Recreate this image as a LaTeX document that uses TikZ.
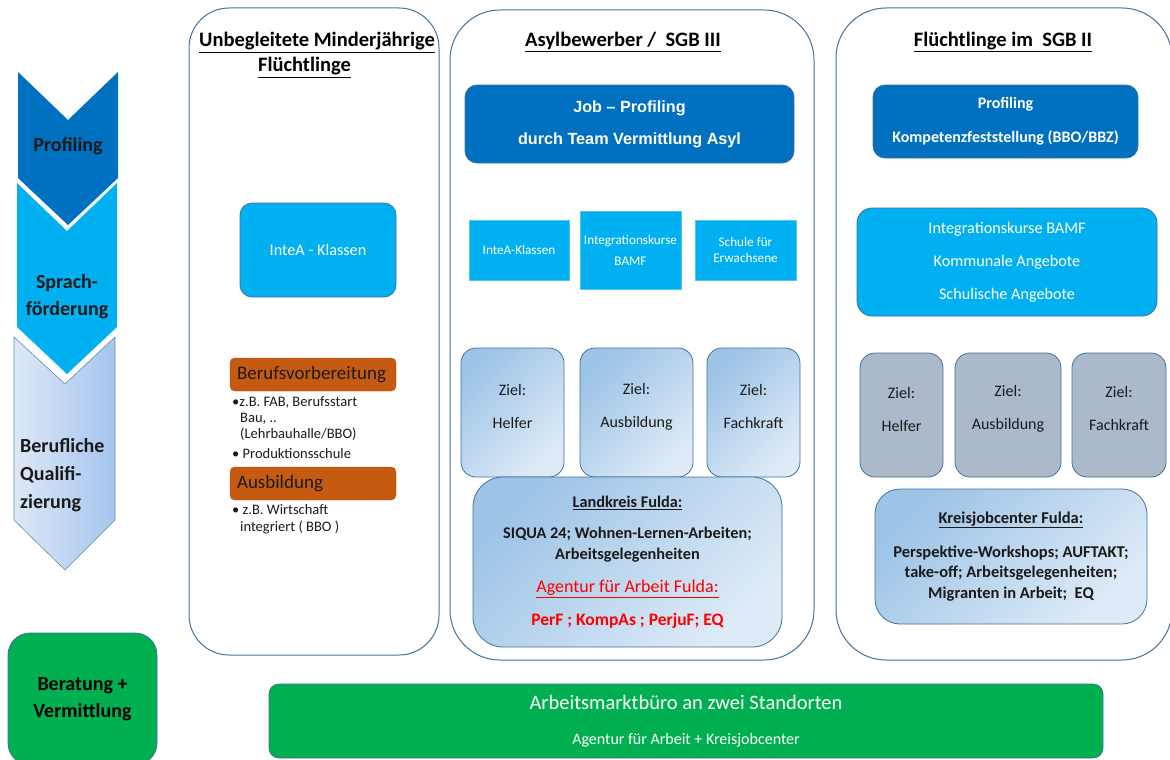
\documentclass[tikz,border=0pt]{standalone}
\usepackage{fontspec}
\setmainfont{Carlito}
\newfontfamily\arialfont{Liberation Sans}
\usetikzlibrary{positioning}

\definecolor{dunkelblau}{HTML}{0070C0}
\definecolor{hellblau}{HTML}{00B0F0}
\definecolor{rahmen}{HTML}{41719C}
\definecolor{zielgrau}{HTML}{ACB9CA}
\definecolor{rostbraun}{HTML}{C55A11}
\definecolor{gruen}{HTML}{00B050}
\definecolor{verlaufA}{HTML}{9DC3E6}
\definecolor{verlaufB}{HTML}{DEEBF7}
\definecolor{pfeilA}{HTML}{DDE8F6}
\definecolor{pfeilB}{HTML}{A4C5EE}
\definecolor{textdunkel}{HTML}{1A1A1A}
\definecolor{agenturrot}{HTML}{FF0000}

\begin{document}
\begin{tikzpicture}[x=1pt,y=-1pt,
    spalte/.style={draw=rahmen, line width=1pt, rounded corners=45, inner sep=0},
    kasten/.style={draw=rahmen, line width=0.8pt, rounded corners=10, inner sep=0, align=center},
    verlauf/.style={left color=verlaufA, right color=verlaufB, shading angle=45},
    kopf/.style={font=\fontsize{20.5}{25}\selectfont\bfseries, text=black, align=left, inner sep=0},
    zieltext/.style={font=\fontsize{16}{33}\selectfont, text=textdunkel},
    balken/.style={fill=rostbraun, draw=rostbraun!80!black, line width=0.4pt, rounded corners=5,
      inner xsep=7, inner ysep=0, text width=152, minimum height=33, align=left,
      font=\fontsize{19}{22}\selectfont, text=textdunkel},
    punkte/.style={font=\fontsize{14.5}{16}\selectfont, text=textdunkel, align=left, inner sep=0},
    kurs/.style={fill=hellblau, draw=hellblau!70!white, line width=0.4pt, inner sep=0, align=center,
      font=\fontsize{13.2}{16}\selectfont, text=white}
  ]
  \useasboundingbox (0,0) rectangle (1170,760);

  % Pfeile links
  \fill[dunkelblau] (18,72) -- (68,120) -- (118,72) -- (118,178) -- (68,225) -- (18,178) -- cycle;
  \fill[hellblau] (17,183) -- (67,231) -- (117,183) -- (117,327) -- (67,374) -- (17,327) -- cycle;
  \shade[left color=pfeilA, right color=pfeilB, draw=rahmen!80!white, line width=0.6pt]
    (14,337) -- (65,384) -- (115,337) -- (115,520) -- (65,570) -- (14,520) -- cycle;
  \node[font=\fontsize{20}{24}\selectfont\bfseries, text=textdunkel] (profiling) at (68,146) {Profiling};
  \node[font=\fontsize{20}{27}\selectfont\bfseries, text=textdunkel, align=center] (sprache) at (67,297) {Sprach-\\förderung};
  \node[font=\fontsize{20}{28}\selectfont\bfseries, text=textdunkel, align=left, anchor=west, inner sep=0] (beruf) at (20,475) {Berufliche\\Qualifi-\\zierung};

  % Spalten
  \node[spalte, rounded corners=40, minimum width=250, minimum height=647] (umf) at (314,331.5) {};
  \node[spalte, rounded corners=50, minimum width=364, minimum height=650] (asyl) at (632,335) {};
  \node[spalte, rounded corners=50, minimum width=336, minimum height=652] (sgbzwei) at (1004,334) {};

  \node[kopf] (umfkopf) at (317,55) {\underline{Unbegleitete Minderjährige}\\\hspace*{59pt}\underline{Flüchtlinge}};
  \node[kopf] (asylkopf) at (623,42) {\underline{Asylbewerber /\ \ SGB III}};
  \node[kopf] (sgbkopf) at (1003,42) {\underline{Flüchtlinge im\ \ SGB II}};

  % Unbegleitete Minderjaehrige
  \node[kasten, fill=hellblau, rounded corners=12, minimum width=156, minimum height=94,
    font=\fontsize{16.2}{18}\selectfont, text=white] (inteaumf) at (318,250) {InteA - Klassen};
  \node[balken] (vorbereitung) at (313,374.5) {Berufsvorbereitung};
  \node[punkte, anchor=north west] (vorbpunkte) at (232,396) {\textbullet z.B. FAB, Berufsstart\\
    \hspace*{8pt}Bau, ..\\\hspace*{8pt}(Lehrbauhalle/BBO)\\[4pt]\textbullet\ Produktionsschule};
  \node[balken] (ausbildung) at (313,483.5) {Ausbildung};
  \node[punkte, anchor=north west, font=\fontsize{14.5}{17}\selectfont] (ausbpunkte) at (232,504) {\textbullet\ z.B. Wirtschaft\\
    \hspace*{8pt}integriert ( BBO )};

  % Asylbewerber
  \node[kasten, fill=dunkelblau, rounded corners=12, minimum width=329, minimum height=78,
    font=\arialfont\fontsize{16.2}{32}\selectfont\bfseries, text=white] (jobprof) at (629.5,124)
    {Job – Profiling\\durch Team Vermittlung Asyl};
  \node[kurs, minimum width=100, minimum height=60] (inteaasyl) at (519,250) {InteA-Klassen};
  \node[kurs, minimum width=101, minimum height=78, font=\fontsize{13.2}{21}\selectfont] (ikasyl) at (630.5,250) {Integrationskurse\\BAMF};
  \node[kurs, minimum width=101, minimum height=60] (schule) at (745.5,250) {Schule für\\Erwachsene};
  \foreach \x/\w/\ziel/\name in {512.5/103/Helfer/h,636.5/113/Ausbildung/a,753.5/93/Fachkraft/f} {
    \node[kasten, verlauf, rounded corners=15, minimum width=\w, minimum height=129] (asyl\name) at (\x,412.5) {};
    \node[zieltext, align=center] (asyl\name text) at ([yshift=6]asyl\name.center) {Ziel:\\\ziel};
  }
  \node[kasten, verlauf, rounded corners=30, minimum width=309, minimum height=170] (landkreis) at (627.5,562) {};
  \node[align=center, text=textdunkel, font=\fontsize{16.3}{21}\selectfont\bfseries] (landtext) at (627.5,529)
    {\underline{Landkreis Fulda:}\\[10pt]SIQUA 24; Wohnen-Lernen-Arbeiten;\\Arbeitsgelegenheiten};
  \node[align=center, text=agenturrot, font=\fontsize{18}{33}\selectfont] (agentur) at (627.5,604)
    {\underline{Agentur für Arbeit Fulda:}\\{\fontsize{17.5}{33}\selectfont\bfseries PerF ; KompAs ; PerjuF; EQ}};

  % SGB II
  \node[kasten, fill=dunkelblau, rounded corners=12, minimum width=265, minimum height=73,
    font=\fontsize{16}{34}\selectfont\bfseries, text=white] (kompetenz) at (1005.5,121.5)
    {Profiling\\Kompetenzfeststellung (BBO/BBZ)};
  \node[kasten, fill=hellblau, rounded corners=15, minimum width=300, minimum height=108,
    font=\fontsize{16.2}{33}\selectfont, text=white] (angebote) at (1007,262)
    {Integrationskurse BAMF\\Kommunale Angebote\\Schulische Angebote};
  \foreach \x/\w/\ziel/\name in {901.5/83/Helfer/h,1008/106/Ausbildung/a,1119/94/Fachkraft/f} {
    \node[kasten, fill=zielgrau, rounded corners=15, minimum width=\w, minimum height=124] (sgb\name) at (\x,415) {};
    \node[zieltext, align=center] (sgb\name text) at ([yshift=6]sgb\name.center) {Ziel:\\\ziel};
  }
  \node[kasten, verlauf, rounded corners=25, minimum width=272, minimum height=135,
    font=\fontsize{16.5}{20.5}\selectfont\bfseries, text=textdunkel] (jobcenter) at (1011,556.5)
    {\underline{Kreisjobcenter Fulda:}\\[13.5pt]Perspektive-Workshops; AUFTAKT;\\take-off; Arbeitsgelegenheiten;\\Migranten in Arbeit;\ \ EQ};

  % Beratung + Vermittlung
  \node[kasten, fill=gruen, rounded corners=22, minimum width=149, minimum height=132,
    font=\fontsize{20}{27}\selectfont\bfseries, text=black] (beratung) at (82.5,699) {Beratung +\\Vermittlung};
  \node[kasten, fill=gruen, rounded corners=10, minimum width=834, minimum height=74,
    font=\fontsize{20.5}{35}\selectfont, text=white] (amb) at (686,721)
    {Arbeitsmarktbüro an zwei Standorten\\{\fontsize{16}{16}\selectfont Agentur für Arbeit + Kreisjobcenter}};
\end{tikzpicture}
\end{document}
